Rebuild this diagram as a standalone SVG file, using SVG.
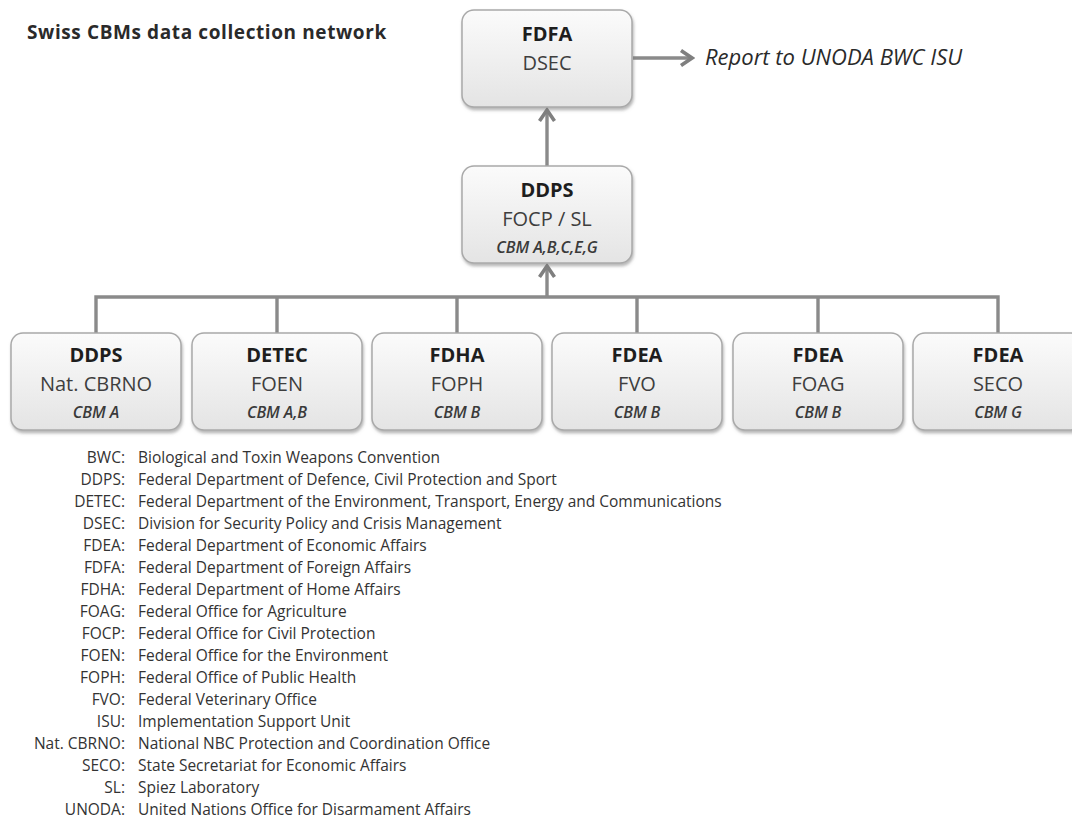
<svg xmlns="http://www.w3.org/2000/svg" width="1072" height="820" viewBox="0 0 1072 820">
<defs>
<linearGradient id="boxgrad" x1="0" y1="0" x2="0" y2="1">
<stop offset="0" stop-color="#fbfbfb"/>
<stop offset="1" stop-color="#e4e4e4"/>
</linearGradient>
<filter id="shadow" x="-10%" y="-10%" width="125%" height="130%">
<feDropShadow dx="1" dy="2.5" stdDeviation="1.5" flood-color="#777" flood-opacity="0.55"/>
</filter>
<marker id="chev" viewBox="0 0 16 18" refX="13" refY="9" markerWidth="16" markerHeight="18" markerUnits="userSpaceOnUse" orient="auto">
<path d="M2,1.5 L13,9 L2,16.5" fill="none" stroke="#7f7f7f" stroke-width="3.6" stroke-linejoin="miter"/>
</marker>
</defs>
<style>
.box{fill:url(#boxgrad);stroke:#a9a9a9;stroke-width:1.5;filter:url(#shadow)}
.t1{font-family:"Open Sans","Noto Sans",sans-serif;font-weight:700;font-size:20px;fill:#1e1e1e;text-anchor:middle}
.t2{font-family:"Open Sans","Noto Sans",sans-serif;font-weight:400;font-size:20px;fill:#3e3e3e;text-anchor:middle}
.t3{font-family:"Open Sans","Noto Sans",sans-serif;font-weight:600;font-style:italic;font-size:16px;fill:#3a3a3a;text-anchor:middle;letter-spacing:-0.1px}
.conn{fill:none;stroke:#8a8a8a;stroke-width:3.4}
.title{font-family:"Open Sans","Noto Sans",sans-serif;font-weight:700;font-size:19px;letter-spacing:0.6px;fill:#2a2a2a}
.report{font-family:"Open Sans","Noto Sans",sans-serif;font-style:italic;font-size:22px;fill:#2a2a2a}
.lk{font-family:"Open Sans","Noto Sans",sans-serif;font-size:15.5px;fill:#333;text-anchor:end}
.lv{font-family:"Open Sans","Noto Sans",sans-serif;font-size:15.5px;fill:#333}
</style>
<rect width="1072" height="820" fill="#ffffff"/>
<text class="title" x="27" y="39">Swiss CBMs data collection network</text>

<g id="connectors">
<path class="conn" d="M96,333 V297 H998 V333 M277,297 V333 M457,297 V333 M637,297 V333 M818,297 V333"/>
<line class="conn" x1="547" y1="297" x2="547" y2="266" marker-end="url(#chev)"/>
<line class="conn" x1="547" y1="166" x2="547" y2="110" marker-end="url(#chev)"/>
<line class="conn" x1="633" y1="58" x2="692" y2="58" marker-end="url(#chev)"/>
</g>

<g id="node-fdfa">
<rect class="box" x="462" y="10" width="170" height="97" rx="12"/>
<text class="t1" x="547" y="41">FDFA</text>
<text class="t2" x="547" y="70">DSEC</text>
</g>
<text class="report" x="705" y="65">Report to UNODA BWC ISU</text>

<g id="node-ddps-focp">
<rect class="box" x="462" y="166" width="170" height="97" rx="12"/>
<text class="t1" x="547" y="197">DDPS</text>
<text class="t2" x="547" y="226">FOCP / SL</text>
<text class="t3" x="547" y="253">CBM A,B,C,E,G</text>
</g>

<g id="node-ddps-cbrno">
<rect class="box" x="11" y="333" width="170" height="97" rx="12"/>
<text class="t1" x="96" y="362">DDPS</text>
<text class="t2" x="96" y="391">Nat. CBRNO</text>
<text class="t3" x="96" y="418">CBM A</text>
</g>
<g id="node-detec">
<rect class="box" x="192" y="333" width="170" height="97" rx="12"/>
<text class="t1" x="277" y="362">DETEC</text>
<text class="t2" x="277" y="391">FOEN</text>
<text class="t3" x="277" y="418">CBM A,B</text>
</g>
<g id="node-fdha">
<rect class="box" x="372" y="333" width="170" height="97" rx="12"/>
<text class="t1" x="457" y="362">FDHA</text>
<text class="t2" x="457" y="391">FOPH</text>
<text class="t3" x="457" y="418">CBM B</text>
</g>
<g id="node-fvo">
<rect class="box" x="552" y="333" width="170" height="97" rx="12"/>
<text class="t1" x="637" y="362">FDEA</text>
<text class="t2" x="637" y="391">FVO</text>
<text class="t3" x="637" y="418">CBM B</text>
</g>
<g id="node-foag">
<rect class="box" x="733" y="333" width="170" height="97" rx="12"/>
<text class="t1" x="818" y="362">FDEA</text>
<text class="t2" x="818" y="391">FOAG</text>
<text class="t3" x="818" y="418">CBM B</text>
</g>
<g id="node-seco">
<rect class="box" x="913" y="333" width="170" height="97" rx="12"/>
<text class="t1" x="998" y="362">FDEA</text>
<text class="t2" x="998" y="391">SECO</text>
<text class="t3" x="998" y="418">CBM G</text>
</g>

<g id="legend">
<text class="lk" x="125" y="463">BWC:</text><text class="lv" x="138" y="463">Biological and Toxin Weapons Convention</text>
<text class="lk" x="125" y="485">DDPS:</text><text class="lv" x="138" y="485">Federal Department of Defence, Civil Protection and Sport</text>
<text class="lk" x="125" y="507">DETEC:</text><text class="lv" x="138" y="507">Federal Department of the Environment, Transport, Energy and Communications</text>
<text class="lk" x="125" y="529">DSEC:</text><text class="lv" x="138" y="529">Division for Security Policy and Crisis Management</text>
<text class="lk" x="125" y="551">FDEA:</text><text class="lv" x="138" y="551">Federal Department of Economic Affairs</text>
<text class="lk" x="125" y="573">FDFA:</text><text class="lv" x="138" y="573">Federal Department of Foreign Affairs</text>
<text class="lk" x="125" y="595">FDHA:</text><text class="lv" x="138" y="595">Federal Department of Home Affairs</text>
<text class="lk" x="125" y="617">FOAG:</text><text class="lv" x="138" y="617">Federal Office for Agriculture</text>
<text class="lk" x="125" y="639">FOCP:</text><text class="lv" x="138" y="639">Federal Office for Civil Protection</text>
<text class="lk" x="125" y="661">FOEN:</text><text class="lv" x="138" y="661">Federal Office for the Environment</text>
<text class="lk" x="125" y="683">FOPH:</text><text class="lv" x="138" y="683">Federal Office of Public Health</text>
<text class="lk" x="125" y="705">FVO:</text><text class="lv" x="138" y="705">Federal Veterinary Office</text>
<text class="lk" x="125" y="727">ISU:</text><text class="lv" x="138" y="727">Implementation Support Unit</text>
<text class="lk" x="125" y="749">Nat. CBRNO:</text><text class="lv" x="138" y="749">National NBC Protection and Coordination Office</text>
<text class="lk" x="125" y="771">SECO:</text><text class="lv" x="138" y="771">State Secretariat for Economic Affairs</text>
<text class="lk" x="125" y="793">SL:</text><text class="lv" x="138" y="793">Spiez Laboratory</text>
<text class="lk" x="125" y="815">UNODA:</text><text class="lv" x="138" y="815">United Nations Office for Disarmament Affairs</text>
</g>
</svg>
